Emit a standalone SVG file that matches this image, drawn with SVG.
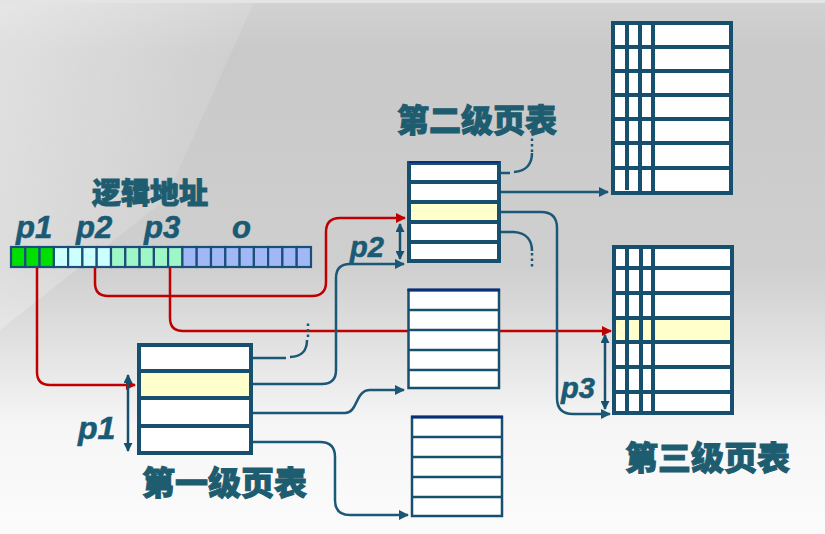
<svg xmlns="http://www.w3.org/2000/svg" width="825" height="534" viewBox="0 0 825 534">
<defs>
<linearGradient id="bg" x1="0" y1="0" x2="0" y2="1">
<stop offset="0" stop-color="#d2d2d2"/>
<stop offset="0.1" stop-color="#c9c9c9"/>
<stop offset="0.5" stop-color="#cfcfcf"/>
<stop offset="0.68" stop-color="#e6e6e6"/>
<stop offset="0.8" stop-color="#f6f6f6"/>
<stop offset="1" stop-color="#fbfbfb"/>
</linearGradient>
<linearGradient id="hl" x1="0" y1="0" x2="1" y2="0.6">
<stop offset="0" stop-color="#ffffff" stop-opacity="0.45"/>
<stop offset="1" stop-color="#ffffff" stop-opacity="0"/>
</linearGradient>
<marker id="ab" viewBox="0 0 10 10" refX="9" refY="5" markerWidth="10" markerHeight="10" markerUnits="userSpaceOnUse" orient="auto">
<path d="M0,0 L10,5 L0,10 z" fill="#1b5877"/>
</marker>
<marker id="ar" viewBox="0 0 10 10" refX="9" refY="5" markerWidth="10" markerHeight="10" markerUnits="userSpaceOnUse" orient="auto">
<path d="M0,0 L10,5 L0,10 z" fill="#c00000"/>
</marker>
<marker id="ad" viewBox="0 0 10 10" refX="9" refY="5" markerWidth="10" markerHeight="9" markerUnits="userSpaceOnUse" orient="auto-start-reverse">
<path d="M0,0 L10,5 L0,10 z" fill="#17506e"/>
</marker>
</defs>
<style>
.tb{fill:#ffffff;stroke:#17506e;stroke-width:4}
.tl{stroke:#17506e;stroke-width:4}
.tbt{fill:#ffffff;stroke:#17506e;stroke-width:2.5}
.tlt{stroke:#17506e;stroke-width:2.5}
.yl{fill:#ffffcc}
.cn{fill:none;stroke:#1b5877;stroke-width:2.5}
.rd{fill:none;stroke:#c00000;stroke-width:2.5}
.dot{fill:none;stroke:#1b5877;stroke-width:2.5;stroke-dasharray:2.5,3}
.da{fill:none;stroke:#17506e;stroke-width:2.5}
.zh{font-family:"Noto Sans CJK SC",sans-serif;font-weight:900;fill:#1e5c70;stroke:#1e5c70;stroke-width:1}
.it{font-family:"Liberation Sans",Arial,sans-serif;font-weight:700;font-style:italic;fill:#1a5a74;stroke:#1a5a74;stroke-width:0.6}
.c{stroke:#1b4f7a;stroke-width:2.2}
.g{fill:#00e000}.cy{fill:#ccffff}.mt{fill:#9ff7c8}.bl{fill:#a0b8f6}
</style>
<rect x="0" y="0" width="825" height="534" fill="url(#bg)"/>
<path d="M0,0 L255,0 L165,200 L0,330 Z" fill="url(#hl)"/>
<rect x="0" y="0" width="825" height="3" fill="#e4e4e4"/>

<g id="address">
<text class="zh" x="92" y="204" font-size="29">逻辑地址</text>
<text class="it" x="16" y="238" font-size="31">p1</text>
<text class="it" x="76" y="238" font-size="31">p2</text>
<text class="it" x="144" y="238" font-size="31">p3</text>
<text class="it" x="232" y="238" font-size="31">o</text>
<g>
<rect class="c g" x="11" y="247" width="14.3" height="20"/>
<rect class="c g" x="25.3" y="247" width="14.3" height="20"/>
<rect class="c g" x="39.6" y="247" width="14.3" height="20"/>
<rect class="c cy" x="53.9" y="247" width="14.3" height="20"/>
<rect class="c cy" x="68.1" y="247" width="14.3" height="20"/>
<rect class="c cy" x="82.4" y="247" width="14.3" height="20"/>
<rect class="c cy" x="96.7" y="247" width="14.3" height="20"/>
<rect class="c mt" x="111" y="247" width="14.3" height="20"/>
<rect class="c mt" x="125.3" y="247" width="14.3" height="20"/>
<rect class="c mt" x="139.6" y="247" width="14.3" height="20"/>
<rect class="c mt" x="153.9" y="247" width="14.3" height="20"/>
<rect class="c mt" x="168.1" y="247" width="14.3" height="20"/>
<rect class="c bl" x="182.4" y="247" width="14.3" height="20"/>
<rect class="c bl" x="196.7" y="247" width="14.3" height="20"/>
<rect class="c bl" x="211" y="247" width="14.3" height="20"/>
<rect class="c bl" x="225.3" y="247" width="14.3" height="20"/>
<rect class="c bl" x="239.6" y="247" width="14.3" height="20"/>
<rect class="c bl" x="253.9" y="247" width="14.3" height="20"/>
<rect class="c bl" x="268.1" y="247" width="14.3" height="20"/>
<rect class="c bl" x="282.4" y="247" width="14.3" height="20"/>
<rect class="c bl" x="296.7" y="247" width="14.3" height="20"/>
</g>
</g>

<g id="connectors">
<path class="rd" d="M37,268 V372 Q37,385 50,385 H135" marker-end="url(#ar)"/>
<path class="rd" d="M95,268 V283 Q95,296 108,296 H312 Q326,296 326,282 V232 Q326,218 340,218 H405" marker-end="url(#ar)"/>
<path class="rd" d="M170,268 V318 Q170,331 183,331 H611" marker-end="url(#ar)"/>

<path class="cn" d="M253,358 H286 M290,357 C302,357 307,350 307,340"/>
<path class="dot" d="M308,337 V321"/>
<path class="cn" d="M253,384 H322 Q336,384 336,370 V278 Q336,264 350,264 H404" marker-end="url(#ab)"/>
<path class="cn" d="M253,413 H345 C358,413 355,390 370,390 H404" marker-end="url(#ab)"/>
<path class="cn" d="M253,442 H320 Q335,442 335,457 V500 Q335,515 350,515 H408" marker-end="url(#ab)"/>

<path class="cn" d="M501,173 H510 M514,172 C527,171 532,163 532,153"/>
<path class="dot" d="M532,152 V137"/>
<path class="cn" d="M501,192 H608" marker-end="url(#ab)"/>
<path class="cn" d="M501,212 H541 Q557,212 557,228 V398 Q557,414 573,414 H610" marker-end="url(#ab)"/>
<path class="cn" d="M501,232 H514 C527,233 532,241 532,251"/>
<path class="dot" d="M532,253 V268"/>
</g>

<g id="table1">
<rect class="tb" x="139" y="345" width="112" height="108"/>
<rect class="yl" x="141" y="373" width="108" height="24"/>
<line class="tl" x1="139" y1="371" x2="251" y2="371"/>
<line class="tl" x1="139" y1="398" x2="251" y2="398"/>
<line class="tl" x1="139" y1="426" x2="251" y2="426"/>
<path class="da" d="M128,375 V451" marker-start="url(#ad)" marker-end="url(#ad)"/>
<text class="it" x="78" y="439" font-size="32">p1</text>
<text class="zh" x="142" y="495" font-size="33">第一级页表</text>
</g>

<g id="table2">
<text class="zh" x="397" y="132" font-size="32">第二级页表</text>
<rect class="tb" x="409" y="163" width="90" height="98"/>
<rect class="yl" x="411" y="204" width="86" height="16"/>
<line class="tl" x1="409" y1="182" x2="499" y2="182"/>
<line class="tl" x1="409" y1="202" x2="499" y2="202"/>
<line class="tl" x1="409" y1="222" x2="499" y2="222"/>
<line class="tl" x1="409" y1="242" x2="499" y2="242"/>
<line x1="409" y1="162" x2="499" y2="162" stroke="#0a2f7a" stroke-width="2"/>
<path class="da" d="M400,224 V259" marker-start="url(#ad)" marker-end="url(#ad)"/>
<text class="it" x="350" y="257" font-size="29">p2</text>
</g>

<g id="table2b">
<rect class="tbt" x="408.5" y="290" width="90.5" height="98"/>
<line x1="407.5" y1="290" x2="500" y2="290" stroke="#0a2f7a" stroke-width="3"/>
<line class="tlt" x1="408.5" y1="310" x2="499" y2="310"/>
<line class="tlt" x1="408.5" y1="330" x2="499" y2="330"/>
<line class="tlt" x1="408.5" y1="350" x2="499" y2="350"/>
<line class="tlt" x1="408.5" y1="370" x2="499" y2="370"/>
</g>

<g id="table2c">
<rect class="tbt" x="412" y="417" width="90" height="99"/>
<line x1="411" y1="417" x2="503" y2="417" stroke="#0a2f7a" stroke-width="3"/>
<line class="tlt" x1="412" y1="437" x2="502" y2="437"/>
<line class="tlt" x1="412" y1="457" x2="502" y2="457"/>
<line class="tlt" x1="412" y1="477" x2="502" y2="477"/>
<line class="tlt" x1="412" y1="497" x2="502" y2="497"/>
</g>

<g id="table3a">
<rect class="tb" x="613" y="23" width="118" height="170"/>
<line class="tl" x1="613" y1="47" x2="731" y2="47"/>
<line class="tl" x1="613" y1="71" x2="731" y2="71"/>
<line class="tl" x1="613" y1="95" x2="731" y2="95"/>
<line class="tl" x1="613" y1="119" x2="731" y2="119"/>
<line class="tl" x1="613" y1="143" x2="731" y2="143"/>
<line class="tl" x1="613" y1="168" x2="731" y2="168"/>
<line class="tl" x1="627" y1="23" x2="627" y2="190"/>
<line class="tl" x1="640" y1="23" x2="640" y2="193"/>
<line class="tl" x1="653" y1="23" x2="653" y2="193"/>
</g>

<g id="table3b">
<rect class="tb" x="614" y="247" width="118" height="166"/>
<rect class="yl" x="616" y="320" width="114" height="21"/>
<line class="tl" x1="614" y1="268" x2="732" y2="268"/>
<line class="tl" x1="614" y1="293" x2="732" y2="293"/>
<line class="tl" x1="614" y1="318" x2="732" y2="318"/>
<line class="tl" x1="614" y1="342" x2="732" y2="342"/>
<line class="tl" x1="614" y1="367" x2="732" y2="367"/>
<line class="tl" x1="614" y1="392" x2="732" y2="392"/>
<line class="tl" x1="627" y1="247" x2="627" y2="413"/>
<line class="tl" x1="641" y1="247" x2="641" y2="413"/>
<line class="tl" x1="653" y1="247" x2="653" y2="413"/>
<path class="da" d="M605,335 V409" marker-start="url(#ad)" marker-end="url(#ad)"/>
<text class="it" x="561" y="398" font-size="29">p3</text>
<text class="zh" x="625" y="470" font-size="33">第三级页表</text>
</g>
</svg>
